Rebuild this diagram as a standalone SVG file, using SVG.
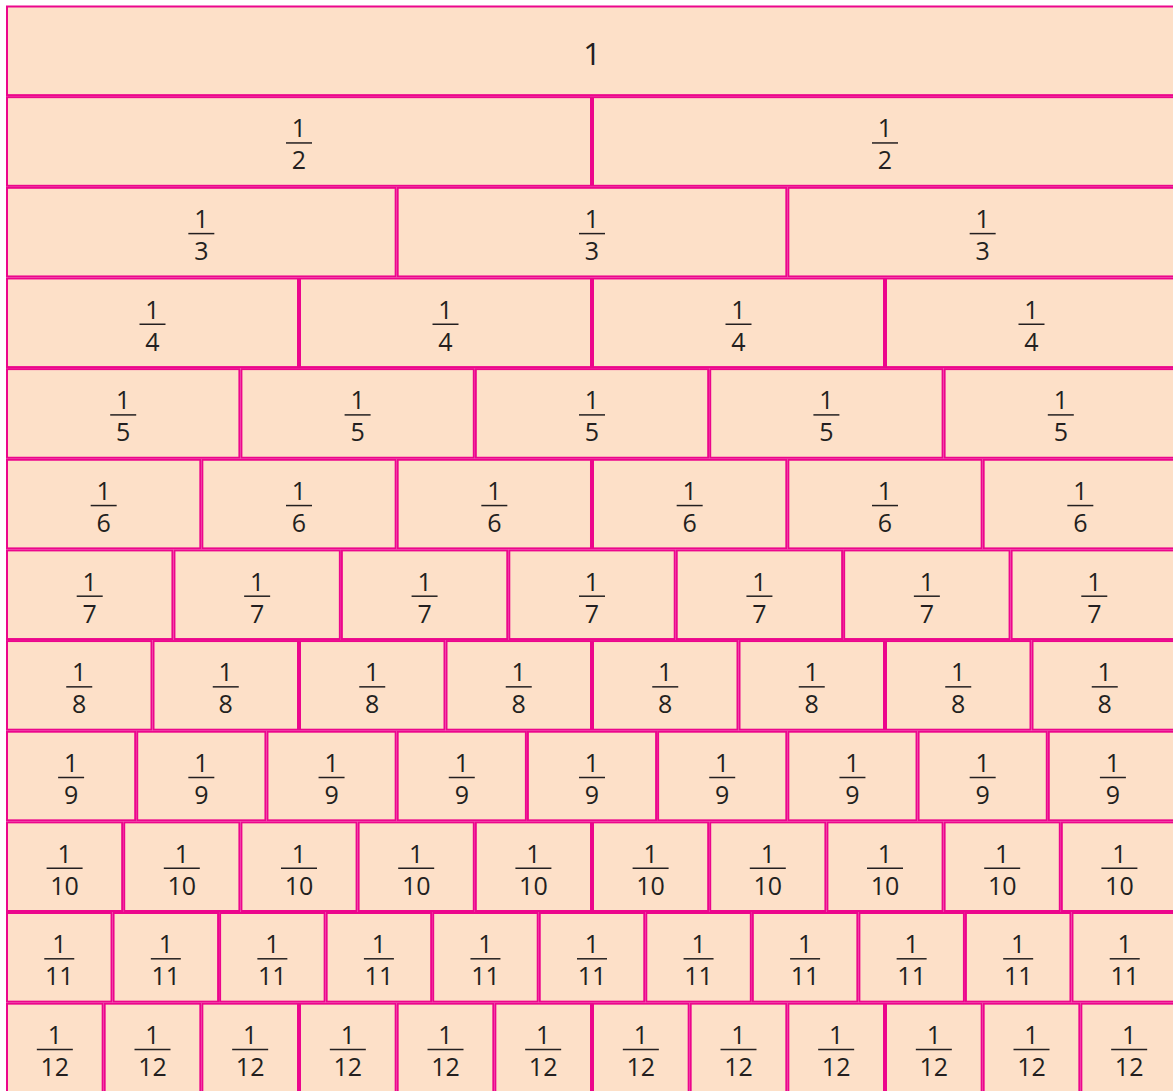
<svg xmlns="http://www.w3.org/2000/svg" width="1173" height="1091" viewBox="0 0 1173 1091">
<style>
.c{fill:#fde0c8;stroke:#ec068c;stroke-width:2}
.n{font-family:"Open Sans","Liberation Sans",sans-serif;font-size:25px;font-weight:500;fill:#231f20;text-anchor:middle}
.w{font-size:31px}
.b{stroke:#231f20;stroke-width:1.5}
</style>
<rect width="1173" height="1091" fill="#ffffff"/>
<g id="nodes">
<g id="c1-1" transform="translate(592,5.5)"><rect class="c" x="-585" y="1" width="1170" height="88.65"/><text class="n w" y="59.5">1</text></g>

<g id="c2-1" transform="translate(299,96.15)"><rect class="c" x="-292" y="1" width="584" height="88.65"/><text class="n" y="41.3">1</text><line class="b" x1="-13" x2="13" y1="46.8" y2="46.8"/><text class="n" y="73.3">2</text></g>
<g id="c2-2" transform="translate(885,96.15)"><rect class="c" x="-292" y="1" width="584" height="88.65"/><text class="n" y="41.3">1</text><line class="b" x1="-13" x2="13" y1="46.8" y2="46.8"/><text class="n" y="73.3">2</text></g>

<g id="c3-1" transform="translate(201.33,186.8)"><rect class="c" x="-194.33" y="1" width="388.67" height="88.65"/><text class="n" y="41.3">1</text><line class="b" x1="-13" x2="13" y1="46.8" y2="46.8"/><text class="n" y="73.3">3</text></g>
<g id="c3-2" transform="translate(592,186.8)"><rect class="c" x="-194.33" y="1" width="388.67" height="88.65"/><text class="n" y="41.3">1</text><line class="b" x1="-13" x2="13" y1="46.8" y2="46.8"/><text class="n" y="73.3">3</text></g>
<g id="c3-3" transform="translate(982.67,186.8)"><rect class="c" x="-194.33" y="1" width="388.67" height="88.65"/><text class="n" y="41.3">1</text><line class="b" x1="-13" x2="13" y1="46.8" y2="46.8"/><text class="n" y="73.3">3</text></g>

<g id="c4-1" transform="translate(152.5,277.45)"><rect class="c" x="-145.5" y="1" width="291" height="88.65"/><text class="n" y="41.3">1</text><line class="b" x1="-13" x2="13" y1="46.8" y2="46.8"/><text class="n" y="73.3">4</text></g>
<g id="c4-2" transform="translate(445.5,277.45)"><rect class="c" x="-145.5" y="1" width="291" height="88.65"/><text class="n" y="41.3">1</text><line class="b" x1="-13" x2="13" y1="46.8" y2="46.8"/><text class="n" y="73.3">4</text></g>
<g id="c4-3" transform="translate(738.5,277.45)"><rect class="c" x="-145.5" y="1" width="291" height="88.65"/><text class="n" y="41.3">1</text><line class="b" x1="-13" x2="13" y1="46.8" y2="46.8"/><text class="n" y="73.3">4</text></g>
<g id="c4-4" transform="translate(1031.5,277.45)"><rect class="c" x="-145.5" y="1" width="291" height="88.65"/><text class="n" y="41.3">1</text><line class="b" x1="-13" x2="13" y1="46.8" y2="46.8"/><text class="n" y="73.3">4</text></g>

<g id="c5-1" transform="translate(123.2,368.1)"><rect class="c" x="-116.2" y="1" width="232.4" height="88.65"/><text class="n" y="41.3">1</text><line class="b" x1="-13" x2="13" y1="46.8" y2="46.8"/><text class="n" y="73.3">5</text></g>
<g id="c5-2" transform="translate(357.6,368.1)"><rect class="c" x="-116.2" y="1" width="232.4" height="88.65"/><text class="n" y="41.3">1</text><line class="b" x1="-13" x2="13" y1="46.8" y2="46.8"/><text class="n" y="73.3">5</text></g>
<g id="c5-3" transform="translate(592,368.1)"><rect class="c" x="-116.2" y="1" width="232.4" height="88.65"/><text class="n" y="41.3">1</text><line class="b" x1="-13" x2="13" y1="46.8" y2="46.8"/><text class="n" y="73.3">5</text></g>
<g id="c5-4" transform="translate(826.4,368.1)"><rect class="c" x="-116.2" y="1" width="232.4" height="88.65"/><text class="n" y="41.3">1</text><line class="b" x1="-13" x2="13" y1="46.8" y2="46.8"/><text class="n" y="73.3">5</text></g>
<g id="c5-5" transform="translate(1060.8,368.1)"><rect class="c" x="-116.2" y="1" width="232.4" height="88.65"/><text class="n" y="41.3">1</text><line class="b" x1="-13" x2="13" y1="46.8" y2="46.8"/><text class="n" y="73.3">5</text></g>

<g id="c6-1" transform="translate(103.67,458.75)"><rect class="c" x="-96.67" y="1" width="193.33" height="88.65"/><text class="n" y="41.3">1</text><line class="b" x1="-13" x2="13" y1="46.8" y2="46.8"/><text class="n" y="73.3">6</text></g>
<g id="c6-2" transform="translate(299,458.75)"><rect class="c" x="-96.67" y="1" width="193.33" height="88.65"/><text class="n" y="41.3">1</text><line class="b" x1="-13" x2="13" y1="46.8" y2="46.8"/><text class="n" y="73.3">6</text></g>
<g id="c6-3" transform="translate(494.33,458.75)"><rect class="c" x="-96.67" y="1" width="193.33" height="88.65"/><text class="n" y="41.3">1</text><line class="b" x1="-13" x2="13" y1="46.8" y2="46.8"/><text class="n" y="73.3">6</text></g>
<g id="c6-4" transform="translate(689.67,458.75)"><rect class="c" x="-96.67" y="1" width="193.33" height="88.65"/><text class="n" y="41.3">1</text><line class="b" x1="-13" x2="13" y1="46.8" y2="46.8"/><text class="n" y="73.3">6</text></g>
<g id="c6-5" transform="translate(885,458.75)"><rect class="c" x="-96.67" y="1" width="193.33" height="88.65"/><text class="n" y="41.3">1</text><line class="b" x1="-13" x2="13" y1="46.8" y2="46.8"/><text class="n" y="73.3">6</text></g>
<g id="c6-6" transform="translate(1080.33,458.75)"><rect class="c" x="-96.67" y="1" width="193.33" height="88.65"/><text class="n" y="41.3">1</text><line class="b" x1="-13" x2="13" y1="46.8" y2="46.8"/><text class="n" y="73.3">6</text></g>

<g id="c7-1" transform="translate(89.71,549.4)"><rect class="c" x="-82.71" y="1" width="165.43" height="88.65"/><text class="n" y="41.3">1</text><line class="b" x1="-13" x2="13" y1="46.8" y2="46.8"/><text class="n" y="73.3">7</text></g>
<g id="c7-2" transform="translate(257.14,549.4)"><rect class="c" x="-82.71" y="1" width="165.43" height="88.65"/><text class="n" y="41.3">1</text><line class="b" x1="-13" x2="13" y1="46.8" y2="46.8"/><text class="n" y="73.3">7</text></g>
<g id="c7-3" transform="translate(424.57,549.4)"><rect class="c" x="-82.71" y="1" width="165.43" height="88.65"/><text class="n" y="41.3">1</text><line class="b" x1="-13" x2="13" y1="46.8" y2="46.8"/><text class="n" y="73.3">7</text></g>
<g id="c7-4" transform="translate(592,549.4)"><rect class="c" x="-82.71" y="1" width="165.43" height="88.65"/><text class="n" y="41.3">1</text><line class="b" x1="-13" x2="13" y1="46.8" y2="46.8"/><text class="n" y="73.3">7</text></g>
<g id="c7-5" transform="translate(759.43,549.4)"><rect class="c" x="-82.71" y="1" width="165.43" height="88.65"/><text class="n" y="41.3">1</text><line class="b" x1="-13" x2="13" y1="46.8" y2="46.8"/><text class="n" y="73.3">7</text></g>
<g id="c7-6" transform="translate(926.86,549.4)"><rect class="c" x="-82.71" y="1" width="165.43" height="88.65"/><text class="n" y="41.3">1</text><line class="b" x1="-13" x2="13" y1="46.8" y2="46.8"/><text class="n" y="73.3">7</text></g>
<g id="c7-7" transform="translate(1094.29,549.4)"><rect class="c" x="-82.71" y="1" width="165.43" height="88.65"/><text class="n" y="41.3">1</text><line class="b" x1="-13" x2="13" y1="46.8" y2="46.8"/><text class="n" y="73.3">7</text></g>

<g id="c8-1" transform="translate(79.25,640.05)"><rect class="c" x="-72.25" y="1" width="144.5" height="88.65"/><text class="n" y="41.3">1</text><line class="b" x1="-13" x2="13" y1="46.8" y2="46.8"/><text class="n" y="73.3">8</text></g>
<g id="c8-2" transform="translate(225.75,640.05)"><rect class="c" x="-72.25" y="1" width="144.5" height="88.65"/><text class="n" y="41.3">1</text><line class="b" x1="-13" x2="13" y1="46.8" y2="46.8"/><text class="n" y="73.3">8</text></g>
<g id="c8-3" transform="translate(372.25,640.05)"><rect class="c" x="-72.25" y="1" width="144.5" height="88.65"/><text class="n" y="41.3">1</text><line class="b" x1="-13" x2="13" y1="46.8" y2="46.8"/><text class="n" y="73.3">8</text></g>
<g id="c8-4" transform="translate(518.75,640.05)"><rect class="c" x="-72.25" y="1" width="144.5" height="88.65"/><text class="n" y="41.3">1</text><line class="b" x1="-13" x2="13" y1="46.8" y2="46.8"/><text class="n" y="73.3">8</text></g>
<g id="c8-5" transform="translate(665.25,640.05)"><rect class="c" x="-72.25" y="1" width="144.5" height="88.65"/><text class="n" y="41.3">1</text><line class="b" x1="-13" x2="13" y1="46.8" y2="46.8"/><text class="n" y="73.3">8</text></g>
<g id="c8-6" transform="translate(811.75,640.05)"><rect class="c" x="-72.25" y="1" width="144.5" height="88.65"/><text class="n" y="41.3">1</text><line class="b" x1="-13" x2="13" y1="46.8" y2="46.8"/><text class="n" y="73.3">8</text></g>
<g id="c8-7" transform="translate(958.25,640.05)"><rect class="c" x="-72.25" y="1" width="144.5" height="88.65"/><text class="n" y="41.3">1</text><line class="b" x1="-13" x2="13" y1="46.8" y2="46.8"/><text class="n" y="73.3">8</text></g>
<g id="c8-8" transform="translate(1104.75,640.05)"><rect class="c" x="-72.25" y="1" width="144.5" height="88.65"/><text class="n" y="41.3">1</text><line class="b" x1="-13" x2="13" y1="46.8" y2="46.8"/><text class="n" y="73.3">8</text></g>

<g id="c9-1" transform="translate(71.11,730.7)"><rect class="c" x="-64.11" y="1" width="128.22" height="88.65"/><text class="n" y="41.3">1</text><line class="b" x1="-13" x2="13" y1="46.8" y2="46.8"/><text class="n" y="73.3">9</text></g>
<g id="c9-2" transform="translate(201.33,730.7)"><rect class="c" x="-64.11" y="1" width="128.22" height="88.65"/><text class="n" y="41.3">1</text><line class="b" x1="-13" x2="13" y1="46.8" y2="46.8"/><text class="n" y="73.3">9</text></g>
<g id="c9-3" transform="translate(331.56,730.7)"><rect class="c" x="-64.11" y="1" width="128.22" height="88.65"/><text class="n" y="41.3">1</text><line class="b" x1="-13" x2="13" y1="46.8" y2="46.8"/><text class="n" y="73.3">9</text></g>
<g id="c9-4" transform="translate(461.78,730.7)"><rect class="c" x="-64.11" y="1" width="128.22" height="88.65"/><text class="n" y="41.3">1</text><line class="b" x1="-13" x2="13" y1="46.8" y2="46.8"/><text class="n" y="73.3">9</text></g>
<g id="c9-5" transform="translate(592,730.7)"><rect class="c" x="-64.11" y="1" width="128.22" height="88.65"/><text class="n" y="41.3">1</text><line class="b" x1="-13" x2="13" y1="46.8" y2="46.8"/><text class="n" y="73.3">9</text></g>
<g id="c9-6" transform="translate(722.22,730.7)"><rect class="c" x="-64.11" y="1" width="128.22" height="88.65"/><text class="n" y="41.3">1</text><line class="b" x1="-13" x2="13" y1="46.8" y2="46.8"/><text class="n" y="73.3">9</text></g>
<g id="c9-7" transform="translate(852.44,730.7)"><rect class="c" x="-64.11" y="1" width="128.22" height="88.65"/><text class="n" y="41.3">1</text><line class="b" x1="-13" x2="13" y1="46.8" y2="46.8"/><text class="n" y="73.3">9</text></g>
<g id="c9-8" transform="translate(982.67,730.7)"><rect class="c" x="-64.11" y="1" width="128.22" height="88.65"/><text class="n" y="41.3">1</text><line class="b" x1="-13" x2="13" y1="46.8" y2="46.8"/><text class="n" y="73.3">9</text></g>
<g id="c9-9" transform="translate(1112.89,730.7)"><rect class="c" x="-64.11" y="1" width="128.22" height="88.65"/><text class="n" y="41.3">1</text><line class="b" x1="-13" x2="13" y1="46.8" y2="46.8"/><text class="n" y="73.3">9</text></g>

<g id="c10-1" transform="translate(64.6,821.35)"><rect class="c" x="-57.6" y="1" width="115.2" height="88.65"/><text class="n" y="41.3">1</text><line class="b" x1="-18" x2="18" y1="46.8" y2="46.8"/><text class="n" y="73.3">10</text></g>
<g id="c10-2" transform="translate(181.8,821.35)"><rect class="c" x="-57.6" y="1" width="115.2" height="88.65"/><text class="n" y="41.3">1</text><line class="b" x1="-18" x2="18" y1="46.8" y2="46.8"/><text class="n" y="73.3">10</text></g>
<g id="c10-3" transform="translate(299,821.35)"><rect class="c" x="-57.6" y="1" width="115.2" height="88.65"/><text class="n" y="41.3">1</text><line class="b" x1="-18" x2="18" y1="46.8" y2="46.8"/><text class="n" y="73.3">10</text></g>
<g id="c10-4" transform="translate(416.2,821.35)"><rect class="c" x="-57.6" y="1" width="115.2" height="88.65"/><text class="n" y="41.3">1</text><line class="b" x1="-18" x2="18" y1="46.8" y2="46.8"/><text class="n" y="73.3">10</text></g>
<g id="c10-5" transform="translate(533.4,821.35)"><rect class="c" x="-57.6" y="1" width="115.2" height="88.65"/><text class="n" y="41.3">1</text><line class="b" x1="-18" x2="18" y1="46.8" y2="46.8"/><text class="n" y="73.3">10</text></g>
<g id="c10-6" transform="translate(650.6,821.35)"><rect class="c" x="-57.6" y="1" width="115.2" height="88.65"/><text class="n" y="41.3">1</text><line class="b" x1="-18" x2="18" y1="46.8" y2="46.8"/><text class="n" y="73.3">10</text></g>
<g id="c10-7" transform="translate(767.8,821.35)"><rect class="c" x="-57.6" y="1" width="115.2" height="88.65"/><text class="n" y="41.3">1</text><line class="b" x1="-18" x2="18" y1="46.8" y2="46.8"/><text class="n" y="73.3">10</text></g>
<g id="c10-8" transform="translate(885,821.35)"><rect class="c" x="-57.6" y="1" width="115.2" height="88.65"/><text class="n" y="41.3">1</text><line class="b" x1="-18" x2="18" y1="46.8" y2="46.8"/><text class="n" y="73.3">10</text></g>
<g id="c10-9" transform="translate(1002.2,821.35)"><rect class="c" x="-57.6" y="1" width="115.2" height="88.65"/><text class="n" y="41.3">1</text><line class="b" x1="-18" x2="18" y1="46.8" y2="46.8"/><text class="n" y="73.3">10</text></g>
<g id="c10-10" transform="translate(1119.4,821.35)"><rect class="c" x="-57.6" y="1" width="115.2" height="88.65"/><text class="n" y="41.3">1</text><line class="b" x1="-18" x2="18" y1="46.8" y2="46.8"/><text class="n" y="73.3">10</text></g>

<g id="c11-1" transform="translate(59.27,912)"><rect class="c" x="-52.27" y="1" width="104.55" height="88.65"/><text class="n" y="41.3">1</text><line class="b" x1="-15" x2="15" y1="46.8" y2="46.8"/><text class="n" y="73.3">11</text></g>
<g id="c11-2" transform="translate(165.82,912)"><rect class="c" x="-52.27" y="1" width="104.55" height="88.65"/><text class="n" y="41.3">1</text><line class="b" x1="-15" x2="15" y1="46.8" y2="46.8"/><text class="n" y="73.3">11</text></g>
<g id="c11-3" transform="translate(272.36,912)"><rect class="c" x="-52.27" y="1" width="104.55" height="88.65"/><text class="n" y="41.3">1</text><line class="b" x1="-15" x2="15" y1="46.8" y2="46.8"/><text class="n" y="73.3">11</text></g>
<g id="c11-4" transform="translate(378.91,912)"><rect class="c" x="-52.27" y="1" width="104.55" height="88.65"/><text class="n" y="41.3">1</text><line class="b" x1="-15" x2="15" y1="46.8" y2="46.8"/><text class="n" y="73.3">11</text></g>
<g id="c11-5" transform="translate(485.45,912)"><rect class="c" x="-52.27" y="1" width="104.55" height="88.65"/><text class="n" y="41.3">1</text><line class="b" x1="-15" x2="15" y1="46.8" y2="46.8"/><text class="n" y="73.3">11</text></g>
<g id="c11-6" transform="translate(592,912)"><rect class="c" x="-52.27" y="1" width="104.55" height="88.65"/><text class="n" y="41.3">1</text><line class="b" x1="-15" x2="15" y1="46.8" y2="46.8"/><text class="n" y="73.3">11</text></g>
<g id="c11-7" transform="translate(698.55,912)"><rect class="c" x="-52.27" y="1" width="104.55" height="88.65"/><text class="n" y="41.3">1</text><line class="b" x1="-15" x2="15" y1="46.8" y2="46.8"/><text class="n" y="73.3">11</text></g>
<g id="c11-8" transform="translate(805.09,912)"><rect class="c" x="-52.27" y="1" width="104.55" height="88.65"/><text class="n" y="41.3">1</text><line class="b" x1="-15" x2="15" y1="46.8" y2="46.8"/><text class="n" y="73.3">11</text></g>
<g id="c11-9" transform="translate(911.64,912)"><rect class="c" x="-52.27" y="1" width="104.55" height="88.65"/><text class="n" y="41.3">1</text><line class="b" x1="-15" x2="15" y1="46.8" y2="46.8"/><text class="n" y="73.3">11</text></g>
<g id="c11-10" transform="translate(1018.18,912)"><rect class="c" x="-52.27" y="1" width="104.55" height="88.65"/><text class="n" y="41.3">1</text><line class="b" x1="-15" x2="15" y1="46.8" y2="46.8"/><text class="n" y="73.3">11</text></g>
<g id="c11-11" transform="translate(1124.73,912)"><rect class="c" x="-52.27" y="1" width="104.55" height="88.65"/><text class="n" y="41.3">1</text><line class="b" x1="-15" x2="15" y1="46.8" y2="46.8"/><text class="n" y="73.3">11</text></g>

<g id="c12-1" transform="translate(54.83,1002.65)"><rect class="c" x="-47.83" y="1" width="95.67" height="88.65"/><text class="n" y="41.3">1</text><line class="b" x1="-18" x2="18" y1="46.8" y2="46.8"/><text class="n" y="73.3">12</text></g>
<g id="c12-2" transform="translate(152.5,1002.65)"><rect class="c" x="-47.83" y="1" width="95.67" height="88.65"/><text class="n" y="41.3">1</text><line class="b" x1="-18" x2="18" y1="46.8" y2="46.8"/><text class="n" y="73.3">12</text></g>
<g id="c12-3" transform="translate(250.17,1002.65)"><rect class="c" x="-47.83" y="1" width="95.67" height="88.65"/><text class="n" y="41.3">1</text><line class="b" x1="-18" x2="18" y1="46.8" y2="46.8"/><text class="n" y="73.3">12</text></g>
<g id="c12-4" transform="translate(347.83,1002.65)"><rect class="c" x="-47.83" y="1" width="95.67" height="88.65"/><text class="n" y="41.3">1</text><line class="b" x1="-18" x2="18" y1="46.8" y2="46.8"/><text class="n" y="73.3">12</text></g>
<g id="c12-5" transform="translate(445.5,1002.65)"><rect class="c" x="-47.83" y="1" width="95.67" height="88.65"/><text class="n" y="41.3">1</text><line class="b" x1="-18" x2="18" y1="46.8" y2="46.8"/><text class="n" y="73.3">12</text></g>
<g id="c12-6" transform="translate(543.17,1002.65)"><rect class="c" x="-47.83" y="1" width="95.67" height="88.65"/><text class="n" y="41.3">1</text><line class="b" x1="-18" x2="18" y1="46.8" y2="46.8"/><text class="n" y="73.3">12</text></g>
<g id="c12-7" transform="translate(640.83,1002.65)"><rect class="c" x="-47.83" y="1" width="95.67" height="88.65"/><text class="n" y="41.3">1</text><line class="b" x1="-18" x2="18" y1="46.8" y2="46.8"/><text class="n" y="73.3">12</text></g>
<g id="c12-8" transform="translate(738.5,1002.65)"><rect class="c" x="-47.83" y="1" width="95.67" height="88.65"/><text class="n" y="41.3">1</text><line class="b" x1="-18" x2="18" y1="46.8" y2="46.8"/><text class="n" y="73.3">12</text></g>
<g id="c12-9" transform="translate(836.17,1002.65)"><rect class="c" x="-47.83" y="1" width="95.67" height="88.65"/><text class="n" y="41.3">1</text><line class="b" x1="-18" x2="18" y1="46.8" y2="46.8"/><text class="n" y="73.3">12</text></g>
<g id="c12-10" transform="translate(933.83,1002.65)"><rect class="c" x="-47.83" y="1" width="95.67" height="88.65"/><text class="n" y="41.3">1</text><line class="b" x1="-18" x2="18" y1="46.8" y2="46.8"/><text class="n" y="73.3">12</text></g>
<g id="c12-11" transform="translate(1031.5,1002.65)"><rect class="c" x="-47.83" y="1" width="95.67" height="88.65"/><text class="n" y="41.3">1</text><line class="b" x1="-18" x2="18" y1="46.8" y2="46.8"/><text class="n" y="73.3">12</text></g>
<g id="c12-12" transform="translate(1129.17,1002.65)"><rect class="c" x="-47.83" y="1" width="95.67" height="88.65"/><text class="n" y="41.3">1</text><line class="b" x1="-18" x2="18" y1="46.8" y2="46.8"/><text class="n" y="73.3">12</text></g>
</g>
<g id="connectors"/>
</svg>
